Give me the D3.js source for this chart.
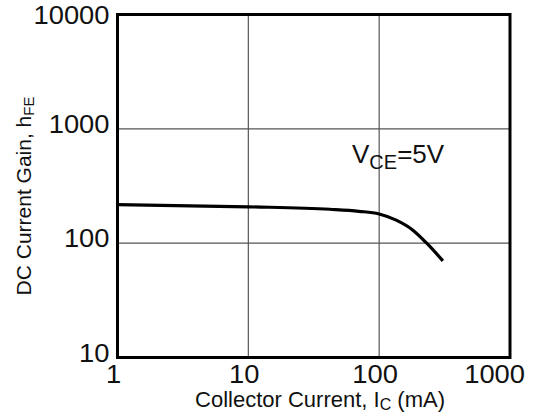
<!DOCTYPE html>
<html>
<head>
<meta charset="utf-8">
<script src="https://cdn.jsdelivr.net/npm/d3@7"></script>
<style>
  body { margin: 0; background: #fff; }
  svg { display: block; font-family: Arial, "Liberation Sans", sans-serif; }
</style>
</head>
<body>
<div id="chart"></div>
<script>
"use strict";

// curve
const collectorMA = [1, 10, 42, 70, 100, 135, 181, 229, 307];
const gainHFE = [217, 208, 198, 190, 180, 159, 130, 101, 70];

const xTicks = [1, 10, 100, 1000];
const yTicks = [10, 100, 1000, 10000];

const W = 534;
const H = 414;
const m = { left: 117.5, right: 24, top: 14.5, bottom: 56.5 };
const digitW = 15.2; // the datasheet font is a bit wide

const svg = d3
  .select("#chart")
  .append("svg")
  .attr("width", W)
  .attr("height", H);

const x = d3.scaleLog().domain([1, 1000]).range([m.left, W - m.right]);
const y = d3.scaleLog().domain([10, 10000]).range([H - m.bottom, m.top]);

// grid lines
svg
  .append("g")
  .selectAll("line")
  .data(xTicks.slice(1, -1))
  .enter()
  .append("line")
  .attr("x1", (d) => x(d))
  .attr("x2", (d) => x(d))
  .attr("y1", y(10))
  .attr("y2", y(10000))
  .attr("stroke", "#555")
  .attr("stroke-width", 1.2);

svg
  .append("g")
  .selectAll("line")
  .data(yTicks.slice(1, -1))
  .enter()
  .append("line")
  .attr("x1", x(1))
  .attr("x2", x(1000))
  .attr("y1", (d) => y(d))
  .attr("y2", (d) => y(d))
  .attr("stroke", "#555")
  .attr("stroke-width", 1.2);

// curve
const line = d3
  .line()
  .x((d, i) => x(collectorMA[i]))
  .y((d) => y(d))
  .curve(d3.curveMonotoneX);

svg
  .append("path")
  .datum(gainHFE)
  .attr("d", line)
  .attr("fill", "none")
  .attr("stroke", "#000")
  .attr("stroke-width", 3.2);

// frame
svg
  .append("rect")
  .attr("x", x(1))
  .attr("y", y(10000))
  .attr("width", x(1000) - x(1))
  .attr("height", y(10) - y(10000))
  .attr("fill", "none")
  .attr("stroke", "#000")
  .attr("stroke-width", 3);

// tick labels
svg
  .selectAll("text.ylab")
  .data(yTicks)
  .enter()
  .append("text")
  .attr("class", "ylab")
  .attr("x", x(1) - 8)
  .attr("y", (d) => Math.max(y(d) + 4, 24))
  .attr("text-anchor", "end")
  .attr("font-size", "25px")
  .attr("fill", "#111")
  .attr("textLength", (d) => String(d).length * digitW)
  .attr("lengthAdjust", "spacingAndGlyphs")
  .text((d) => d);

svg
  .selectAll("text.xlab")
  .data(xTicks)
  .enter()
  .append("text")
  .attr("class", "xlab")
  .attr("x", (d, i) => (i === xTicks.length - 1 ? W - 9 : x(d) - 4))
  .attr("y", y(10) + 25)
  .attr("text-anchor", (d, i) => (i === xTicks.length - 1 ? "end" : "middle"))
  .attr("font-size", "25px")
  .attr("fill", "#111")
  .attr("textLength", (d) => String(d).length * digitW)
  .attr("lengthAdjust", "spacingAndGlyphs")
  .text((d) => d);

// axis titles
const xt = svg
  .append("text")
  .attr("x", 320)
  .attr("y", 407)
  .attr("text-anchor", "middle")
  .attr("font-size", "22px")
  .attr("fill", "#111");
xt.append("tspan").text("Collector Current, I");
xt.append("tspan").attr("font-size", "16px").attr("dy", 3).text("C");
xt.append("tspan").attr("dy", -3).text(" (mA)");

const yt = svg
  .append("text")
  .attr("transform", "translate(31,196) rotate(-90)")
  .attr("text-anchor", "middle")
  .attr("font-size", "21px")
  .attr("fill", "#111");
yt.append("tspan").text("DC Current Gain, h");
yt.append("tspan").attr("font-size", "15px").attr("dy", 3).text("FE");

// condition label
const note = svg
  .append("text")
  .attr("x", 352)
  .attr("y", 163)
  .attr("font-size", "26px")
  .attr("fill", "#111");
note.append("tspan").text("V");
note.append("tspan").attr("font-size", "20px").attr("dy", 6).text("CE");
note.append("tspan").attr("dy", -6).text("=5V");
</script>
</body>
</html>
